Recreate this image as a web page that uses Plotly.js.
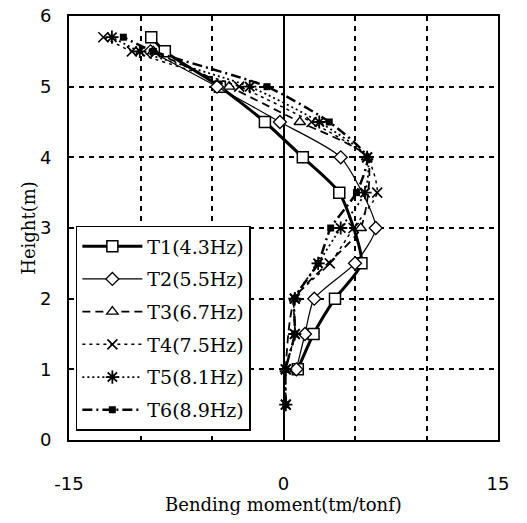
<!DOCTYPE html>
<html>
<head>
<meta charset="utf-8">
<script src="https://cdn.plot.ly/plotly-3.0.1.min.js"></script>
<style>html,body{margin:0;padding:0;background:#fff;}#chart{width:527px;height:523px;}</style>
</head>
<body>
<div id="chart"></div>
<script>
// Data
const seriesNames = ["T1(4.3Hz)", "T2(5.5Hz)", "T3(6.7Hz)", "T4(7.5Hz)", "T5(8.1Hz)", "T6(8.9Hz)"];

const heightT1 = [1.0, 1.5, 2.0, 2.5, 3.5, 4.0, 4.5, 5.0, 5.5, 5.7];
const momentT1 = [1.0, 2.1, 3.6, 5.45, 3.9, 1.35, -1.3, -4.45, -8.3, -9.25];

const heightT2 = [1.0, 1.5, 2.0, 2.5, 3.0, 4.0, 4.5, 5.0, 5.5];
const momentT2 = [0.9, 1.5, 2.15, 5.0, 6.45, 4.0, -0.25, -4.65, -9.3];

const heightT3 = [1.0, 2.0, 3.0, 4.0, 4.5, 5.0, 5.5];
const momentT3 = [0.16, 0.8, 5.4, 5.85, 1.14, -3.8, -9.1];

const heightT4 = [0.5, 1.0, 1.5, 2.0, 2.5, 3.0, 3.5, 4.0, 4.5, 5.0, 5.5, 5.7];
const momentT4 = [0.16, 0.16, 0.79, 0.79, 3.24, 4.9, 6.55, 5.85, 1.96, -3.1, -10.6, -12.6];

const heightT5 = [0.5, 1.0, 1.5, 2.0, 2.5, 3.0, 3.5, 4.0, 4.5, 5.0, 5.5, 5.7];
const momentT5 = [0.16, 0.16, 0.79, 0.79, 2.42, 4.0, 5.7, 5.85, 2.5, -2.36, -10.05, -12.0];

const heightT6 = [0.5, 1.0, 1.5, 2.0, 2.5, 3.0, 3.5, 4.0, 4.5, 5.0, 5.5, 5.7];
const momentT6 = [0.16, 0.16, 0.79, 0.79, 2.42, 3.3, 5.1, 5.85, 3.2, -1.15, -9.1, -11.2];

const xTickVals = [-15, -10, -5, 0, 5, 10, 15];
const xTickText = ["-15", "", "", "0", "", "", "15"];
const yTickVals = [0, 1, 2, 3, 4, 5, 6];

const heights = [heightT1, heightT2, heightT3, heightT4, heightT5, heightT6];
const moments = [momentT1, momentT2, momentT3, momentT4, momentT5, momentT6];

const styles = [
  {line: {color: "#000", width: 3, dash: "solid"}, marker: {symbol: "square", size: 11, color: "#fff", line: {color: "#000", width: 1.5}}},
  {line: {color: "#000", width: 1.2, dash: "solid"}, marker: {symbol: "diamond", size: 10, color: "#fff", line: {color: "#000", width: 1.3}}},
  {line: {color: "#000", width: 1.8, dash: "8px,5px"}, marker: {symbol: "triangle-up", size: 10, color: "#fff", line: {color: "#000", width: 1.3}}},
  {line: {color: "#000", width: 1.5, dash: "3px,4px"}, marker: {symbol: "x-thin-open", size: 10, color: "#000", line: {color: "#000", width: 1.6}}},
  {line: {color: "#000", width: 1.8, dash: "2px,3px"}, marker: {symbol: "asterisk-open", size: 11, color: "#000", line: {color: "#000", width: 1.8}}},
  {line: {color: "#000", width: 2.5, dash: "10px,4px,2px,4px"}, marker: {symbol: "square", size: 7, color: "#000", line: {color: "#000", width: 0}}}
];

const traces = seriesNames.map((name, i) => ({
  type: "scatter",
  mode: "lines+markers",
  name: name,
  legendgroup: "g" + i,
  x: moments[i],
  y: heights[i],
  line: Object.assign({shape: "spline", smoothing: 0.6}, styles[i].line),
  marker: styles[i].marker
}));

const gridCommon = {
  showgrid: true,
  gridcolor: "#000",
  gridwidth: 2,
  griddash: "5px,5px",
  showline: true,
  linecolor: "#000",
  linewidth: 2,
  mirror: true,
  ticks: "",
  fixedrange: true
};

const layout = {
  width: 527,
  height: 523,
  margin: {l: 69, r: 29, t: 16, b: 83},
  paper_bgcolor: "#fff",
  plot_bgcolor: "#fff",
  showlegend: true,
  legend: {
    x: 0.016, y: 0.505, xanchor: "left", yanchor: "top",
    bgcolor: "#fff", bordercolor: "#000", borderwidth: 1.5,
    font: {family: "DejaVu Serif", size: 19, color: "#000"},
    itemwidth: 60,
    tracegroupgap: 5
  },
  xaxis: Object.assign({}, gridCommon, {
    range: [-15, 15],
    tickvals: xTickVals,
    ticktext: xTickText,
    tickfont: {family: "DejaVu Sans", size: 18, color: "#000"},
    ticklabelstandoff: 26,
    zeroline: true, zerolinecolor: "#000", zerolinewidth: 2,
    title: {text: "Bending moment(tm/tonf)", font: {family: "DejaVu Serif", size: 18, color: "#000"}, standoff: 4}
  }),
  yaxis: Object.assign({}, gridCommon, {
    range: [0, 6],
    tickvals: yTickVals,
    tickfont: {family: "DejaVu Sans", size: 18, color: "#000"},
    ticklabelstandoff: 12,
    zeroline: false,
    title: {text: "Height(m)", font: {family: "DejaVu Serif", size: 18, color: "#000"}, standoff: 0}
  })
};

Plotly.newPlot("chart", traces, layout, {staticPlot: true, displayModeBar: false});
</script>
</body>
</html>
